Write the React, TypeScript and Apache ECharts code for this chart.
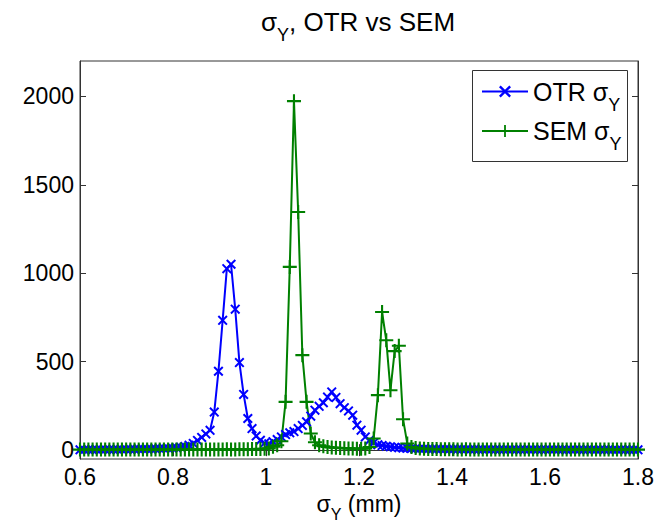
import React, { useEffect, useRef } from "react";
import * as echarts from "echarts";

// ---- data ----
const X_MIN = 0.6;
const X_MAX = 1.8;
const SAMPLE_COUNT = 134; // sample points between X_MIN and X_MAX
const X_TICKS = [0.6, 0.8, 1.0, 1.2, 1.4, 1.6, 1.8];
const Y_TICKS = [0, 500, 1000, 1500, 2000];
const Y_MIN = -50;
const Y_MAX = 2200;

const OTR_SIGMA_Y = [
  2, 2, 3, 2, 3, 3, 3, 4, 3, 4, 4, 5, 5, 5, 6, 6, 7, 7, 8, 9, 10, 11,
  12, 14, 17, 21, 28, 38, 55, 72, 92, 112, 215,
  446, 734, 1026, 1051, 797, 495, 315, 179, 122, 80, 56,
  40, 36, 48, 60, 75, 88, 98, 105, 122, 140, 160, 192, 226, 248, 268, 300, 329,
  298, 263, 240, 222, 198, 141, 113, 75, 56, 42, 30, 26, 22, 19, 16, 14, 12, 11, 10, 9, 8, 8, 7,
  7, 6, 6, 6, 5, 6, 5, 5, 5, 4, 5, 4, 4, 5, 4, 4, 4, 3, 4, 4,
  3, 4, 3, 3, 4, 3, 3, 3, 4, 3, 3, 3, 2, 3, 3, 3, 2, 3, 3, 2,
  3, 2, 3, 2, 2, 3, 2, 2, 2, 2,
];

const SEM_SIGMA_Y = [
  3, 3, 4, 3, 3, 4, 3, 3, 4, 3, 3, 3, 4, 3, 3, 4, 3, 3, 3, 4,
  3, 3, 4, 3, 3, 4, 3, 4, 3, 4, 4, 3, 4, 4, 4, 5, 4, 4, 5, 5, 5, 6, 6, 7, 8,
  10, 19, 28, 50, 273, 1036, 1973, 1346, 537, 273, 94, 45, 28, 22,
  18, 15, 14, 12, 11, 10, 9, 8, 8, 10, 18,
  66, 311, 781, 621, 339, 560, 590, 175, 38,
  18, 12, 9, 8, 7, 6, 6, 5, 5, 5, 5, 4, 4, 5, 4, 4, 4, 4, 3, 4,
  4, 3, 4, 3, 3, 4, 3, 3, 3, 4, 3, 3, 3, 3, 4, 3, 3, 3, 3, 3,
  3, 3, 3, 3, 3, 3, 3, 3, 3, 3, 3, 3, 3, 3, 3,
];

const SERIES_NAMES = ["OTR", "SEM"];

const FONT = "'Liberation Sans', Arial, Helvetica, sans-serif";
const PLUS =
  "path://M-0.15,-1H0.15V-0.15H1V0.15H0.15V1H-0.15V0.15H-1V-0.15H-0.15Z";
const CROSS =
  "path://M-1,-0.72L-0.72,-1L0,-0.28L0.72,-1L1,-0.72L0.28,0L1,0.72L0.72,1L0,0.28L-0.72,1L-1,0.72L-0.28,0Z";

function xAt(i: number) {
  return X_MIN + (i * (X_MAX - X_MIN)) / (SAMPLE_COUNT - 1);
}

function richFor(main: number, sub: number, pad: number) {
  return {
    m: { fontSize: main, fontFamily: FONT, fontWeight: "normal", color: "#000" },
    s: {
      fontSize: sub,
      fontFamily: FONT,
      fontWeight: "normal",
      color: "#000",
      padding: [pad, 0, 0, 0],
    },
  };
}

export default function App() {
  const ref = useRef<HTMLDivElement>(null);
  useEffect(() => {
    if (!ref.current) return;
    const chart = echarts.init(ref.current, undefined, { renderer: "svg" });
    const axisColor = "#333";
    const tickStyle = { show: true, inside: true, length: 6, lineStyle: { color: axisColor, width: 1 } };
    const option: any = {
      animation: false,
      backgroundColor: "#fff",
      title: {
        text: "{m|σ}{s|Y}{m|, OTR vs SEM}",
        left: 358,
        top: 0,
        textAlign: "center",
        padding: 0,
        textStyle: { fontWeight: "normal", rich: richFor(26, 18, 26) },
      },
      grid: {
        left: 80,
        right: 33,
        top: 61,
        bottom: 63,
        show: true,
        borderColor: axisColor,
        borderWidth: 1,
        backgroundColor: "#fff",
        containLabel: false,
        outerBoundsMode: "none",
      },
      legend: {
        orient: "vertical",
        left: 481,
        top: 79,
        padding: 0,
        itemWidth: 46,
        itemHeight: 15,
        itemGap: 5,
        data: SERIES_NAMES,
        formatter: (n: string) => `{m|${n} σ}{s|Y}`,
        textStyle: { rich: richFor(25, 18, 26) },
      },
      graphic: [
        {
          type: "rect",
          z: 3,
          shape: { x: 472.5, y: 70.5, width: 155, height: 91 },
          style: { fill: "#fff", stroke: axisColor, lineWidth: 1 },
        },
      ],
      xAxis: [
        {
          type: "value",
          min: X_MIN,
          max: X_MAX,
          axisLine: { show: true, lineStyle: { color: axisColor } },
          axisTick: { ...tickStyle, customValues: X_TICKS },
          axisLabel: {
            customValues: X_TICKS,
            margin: 6,
            color: "#000",
            fontSize: 23,
            fontFamily: FONT,
            formatter: (v: number) => String(Number(v.toFixed(1))),
          },
          splitLine: { show: false },
          name: "{m|σ}{s|Y}{m| (mm)}",
          nameLocation: "middle",
          nameGap: 26,
          nameTextStyle: { rich: richFor(23, 16, 20) },
        },
        {
          type: "value",
          position: "top",
          min: X_MIN,
          max: X_MAX,
          axisLine: { show: true, lineStyle: { color: axisColor } },
          axisTick: { ...tickStyle, customValues: X_TICKS },
          axisLabel: { show: false },
          splitLine: { show: false },
        },
      ],
      yAxis: [
        {
          type: "value",
          min: Y_MIN,
          max: Y_MAX,
          axisLine: { show: true, lineStyle: { color: axisColor } },
          axisTick: { ...tickStyle, customValues: Y_TICKS },
          axisLabel: {
            customValues: Y_TICKS,
            margin: 6,
            color: "#000",
            fontSize: 23,
            fontFamily: FONT,
            formatter: (v: number) => String(Math.round(v)),
          },
          splitLine: { show: false },
        },
        {
          type: "value",
          position: "right",
          min: Y_MIN,
          max: Y_MAX,
          axisLine: { show: true, lineStyle: { color: axisColor } },
          axisTick: { ...tickStyle, customValues: Y_TICKS },
          axisLabel: { show: false },
          splitLine: { show: false },
        },
      ],
      series: [
        {
          name: SERIES_NAMES[0],
          type: "line",
          data: OTR_SIGMA_Y.map((v, i) => [xAt(i), v]),
          symbol: CROSS,
          symbolSize: 10,
          lineStyle: { color: "#0000ff", width: 2 },
          itemStyle: { color: "#0000ff" },
          clip: false,
          z: 2,
        },
        {
          name: SERIES_NAMES[1],
          type: "line",
          data: SEM_SIGMA_Y.map((v, i) => [xAt(i), v]),
          symbol: PLUS,
          symbolSize: 14,
          lineStyle: { color: "#008000", width: 2 },
          itemStyle: { color: "#008000" },
          clip: false,
          z: 2,
        },
      ],
    };
    chart.setOption(option);
    return () => chart.dispose();
  }, []);
  return (
    <div
      ref={ref}
      style={{ position: "fixed", left: 0, top: 0, width: 671, height: 522, background: "#fff" }}
    />
  );
}
